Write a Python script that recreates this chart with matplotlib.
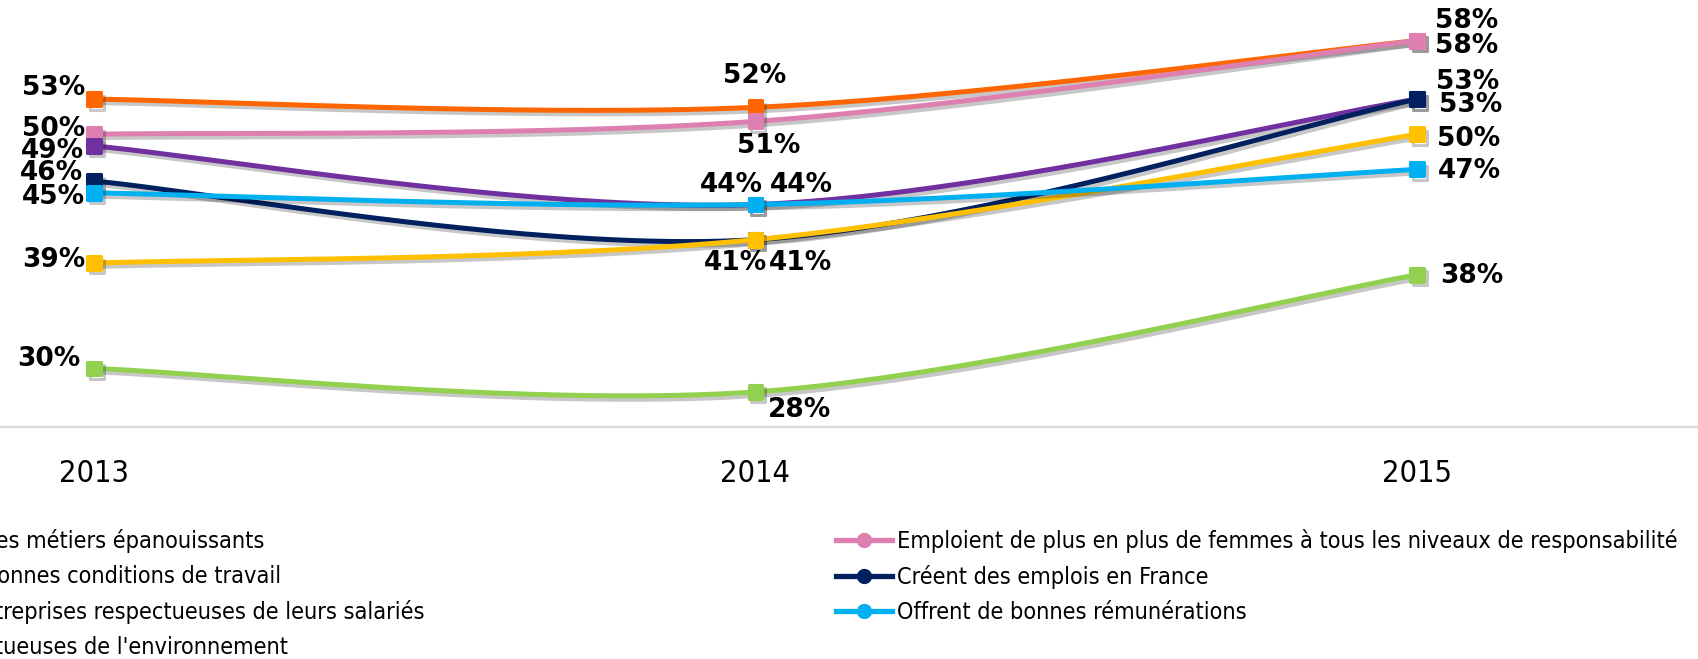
import numpy as np
import matplotlib
matplotlib.use('Agg')
import matplotlib.pyplot as plt
from matplotlib.lines import Line2D
from matplotlib.markers import MarkerStyle
from matplotlib.font_manager import FontProperties
import matplotlib.patheffects as pe

# ---------------- data ----------------
years = ['2013', '2014', '2015']
series_names = [
    'Proposent des métiers épanouissants',
    'Emploient de plus en plus de femmes à tous les niveaux de responsabilité',
    'Offrent de bonnes conditions de travail',
    'Créent des emplois en France',
    'Sont des entreprises respectueuses de leurs salariés',
    'Offrent de bonnes rémunérations',
    "Sont respectueuses de l'environnement",
]
metiers = [53, 52.3, 58]
femmes = [50, 51.1, 58]
conditions = [49, 44, 53]
emplois = [46, 41, 53]
salaries = [39, 41, 50]
remunerations = [45, 44, 47]
environnement = [30, 28, 38]
series_values = [metiers, femmes, conditions, emplois, salaries, remunerations, environnement]

# ---------------- style ----------------
colors = ['#FF6600', '#DE7FB2', '#7030A0', '#002060', '#FFC000', '#00B0F0', '#92D050']
# label offsets from the point, in pixels (dx right, dy down) and horizontal alignment
label_offsets = [
    [(-9, -11, 'right'), (-1, -31, 'center'), (50, -20, 'center')],
    [(-9, -5, 'right'), (13, 25, 'center'), (50, 5, 'center')],
    [(-10, 5, 'right'), (-24, -20, 'center'), (51, -17, 'center')],
    [(-11, -8, 'right'), (-20, 23, 'center'), (54, 6, 'center')],
    [(-9, -3, 'right'), (45, 23, 'center'), (52, 5, 'center')],
    [(-9, 4, 'right'), (46, -20, 'center'), (52, 2, 'center')],
    [(-14, -9, 'right'), (44, 18, 'center'), (55, 1, 'center')],
]

W, H = 1698, 659
DPI = 100
fig = plt.figure(figsize=(W / DPI, H / DPI), dpi=DPI)
fig.patch.set_facecolor('white')

axis_px = 427
ax = fig.add_axes([0, (H - axis_px) / H, 1, axis_px / H])
px_per_unit_x = 661.5
x0_px = 94
ax.set_xlim(-x0_px / px_per_unit_x, (W - x0_px) / px_per_unit_x)
px_per_pct = 11.71
ax.set_ylim(25, 25 + axis_px / px_per_pct)

for s in ['top', 'left', 'right']:
    ax.spines[s].set_visible(False)
ax.spines['bottom'].set_color('#D9D9D9')
ax.spines['bottom'].set_linewidth(1.6)
ax.set_yticks([])

tick_font = FontProperties(family='DejaVu Sans', stretch='condensed', size=22)
ax.set_xticks(range(len(years)))
ax.set_xticklabels(years, fontproperties=tick_font)
ax.tick_params(axis='x', length=0, pad=23, colors='black')


def smooth(xs, ys, n=80):
    P = np.column_stack([xs, ys]).astype(float)
    pts = []
    for i in range(len(P) - 1):
        p0 = P[i - 1] if i > 0 else P[i]
        p1 = P[i]
        p2 = P[i + 1]
        p3 = P[i + 2] if i + 2 < len(P) else P[i + 1]
        c1 = p1 + (p2 - p0) / 6.0
        c2 = p2 - (p3 - p1) / 6.0
        t = np.linspace(0, 1, n)[:, None]
        seg = (1 - t) ** 3 * p1 + 3 * (1 - t) ** 2 * t * c1 + 3 * (1 - t) * t ** 2 * c2 + t ** 3 * p2
        pts.append(seg if i == 0 else seg[1:])
    return np.vstack(pts)


shadow = [pe.SimpleLineShadow(offset=(2, -2.5), shadow_color='black', alpha=0.22), pe.Normal()]
xs = np.arange(len(years))
marker = MarkerStyle('s', joinstyle='round')
for k, vals in enumerate(series_values):
    c = colors[k]
    curve = smooth(xs, vals)
    ax.plot(curve[:, 0], curve[:, 1], color=c, lw=3.6, solid_capstyle='round',
            path_effects=shadow, zorder=2 + k * 0.1, clip_on=False)
    ax.plot(xs, vals, linestyle='none', marker=marker, ms=10, mfc=c, mec=c, mew=2.2,
            path_effects=shadow, zorder=2.05 + k * 0.1, clip_on=False)

for k, vals in enumerate(series_values):
    for i, v in enumerate(vals):
        dx, dy, ha = label_offsets[k][i]
        ax.annotate(f'{round(v)}%', xy=(xs[i], v), xytext=(dx * 72 / DPI, -dy * 72 / DPI),
                    textcoords='offset points', ha=ha, va='center', fontsize=19,
                    fontweight='bold', family='DejaVu Sans', color='black',
                    zorder=5, annotation_clip=False)

# ---------------- legend ----------------
leg_font = FontProperties(family='DejaVu Sans', stretch='condensed', size=16.8)
left_idx = [0, 2, 4, 6]
right_idx = [1, 3, 5]
leg_top_px = 529


def make_legend(idx, x_px):
    handles = [Line2D([], [], color=colors[i], lw=3.8, marker='o', ms=10) for i in idx]
    return fig.legend(handles, [series_names[i] for i in idx], loc='upper left',
                      bbox_to_anchor=(x_px / W, 1 - leg_top_px / H), bbox_transform=fig.transFigure,
                      frameon=False, borderpad=0, borderaxespad=0, handlelength=2.4,
                      handletextpad=0.2, labelspacing=0.52, prop=leg_font)


right_handle_px = 836
leg_r = make_legend(right_idx, right_handle_px)
fig.canvas.draw()
r = fig.canvas.get_renderer()
text_dx = leg_r.get_texts()[0].get_window_extent(r).x0 - right_handle_px
prefixes = ['Proposent d', 'Offrent de b', 'Sont des ent', 'Sont respect']
widths = []
for p in prefixes:
    tmp = fig.text(0, 0, p, fontproperties=leg_font)
    widths.append(tmp.get_window_extent(r).width)
    tmp.remove()
prefix_w = float(np.mean(widths))
leg_l = make_legend(left_idx, -prefix_w - text_dx)

fig.savefig('out.png', dpi=DPI)
